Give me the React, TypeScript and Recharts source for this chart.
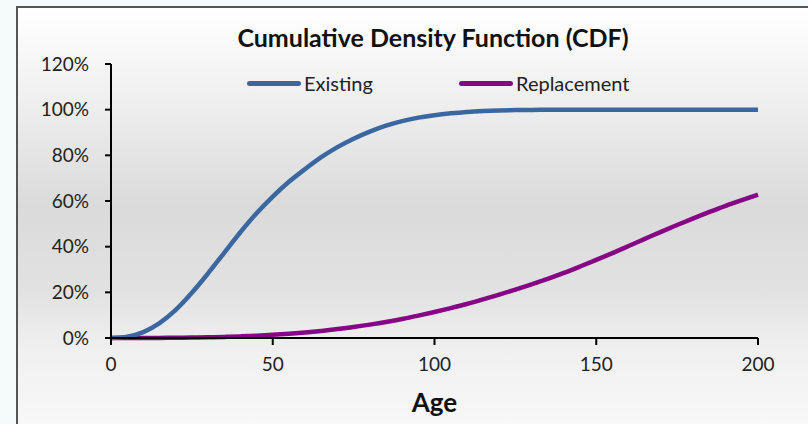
import React from "react";
import {
  LineChart,
  Line,
  XAxis,
  YAxis,
  Legend,
  Label,
} from "recharts";

// Age (years) sampled every 5 units
const ages = [
  0, 5, 10, 15, 20, 25, 30, 35, 40, 45, 50, 55, 60, 65, 70, 75, 80, 85, 90, 95,
  100, 105, 110, 115, 120, 125, 130, 135, 140, 145, 150, 155, 160, 165, 170,
  175, 180, 185, 190, 195, 200,
];

// cumulative share failed, in percent
const existing = [
  0, 0.6, 2.6, 6.5, 12.3, 19.8, 28.3, 37.3, 46.3, 54.6, 61.9, 68.4, 74, 79.2,
  83.6, 87.3, 90.4, 93, 95, 96.5, 97.6, 98.4, 99, 99.4, 99.65, 99.8, 99.9,
  99.95, 100, 100, 100, 100, 100, 100, 100, 100, 100, 100, 100, 100, 100,
];

const replacement = [
  0, 0, 0.02, 0.05, 0.1, 0.18, 0.3, 0.47, 0.7, 1.0, 1.38, 1.85, 2.42, 3.1, 3.9,
  4.8, 5.85, 7.0, 8.3, 9.8, 11.4, 13.1, 14.9, 16.9, 19.0, 21.2, 23.5, 25.9,
  28.5, 31.3, 34.2, 37.2, 40.3, 43.4, 46.5, 49.5, 52.4, 55.2, 57.9, 60.4,
  62.8,
];

const xTicks = [0, 50, 100, 150, 200];
const yTicks = [0, 20, 40, 60, 80, 100, 120];

const seriesNames = { existing: "Existing", replacement: "Replacement" };
const colors = { existing: "#3b67a0", replacement: "#860686" };

const data = ages.map((age, i) => ({
  age,
  existing: existing[i],
  replacement: replacement[i],
}));

const FONT = "Lato, 'Open Sans', sans-serif";

function CdfLegend() {
  const items = [
    { key: "existing", left: 247 },
    { key: "replacement", left: 459 },
  ] as const;
  return (
    <div style={{ position: "relative", height: 24 }}>
      {items.map((it) => (
        <div
          key={it.key}
          style={{
            position: "absolute",
            left: it.left,
            top: 0,
            display: "flex",
            alignItems: "center",
            height: 24,
          }}
        >
          <div
            style={{
              width: 54,
              height: 5,
              borderRadius: 3,
              background: colors[it.key],
            }}
          />
          <span
            style={{
              marginLeft: 3,
              fontSize: 20,
              color: "#222",
              fontFamily: FONT,
            }}
          >
            {seriesNames[it.key]}
          </span>
        </div>
      ))}
    </div>
  );
}

export default function App() {
  const tick = { fill: "#222", fontSize: 19, fontFamily: FONT };
  return (
    <div
      style={{
        position: "fixed",
        left: 0,
        top: 0,
        width: 808,
        height: 424,
        overflow: "hidden",
        background: "#f5fafa",
        fontFamily: FONT,
      }}
    >
      {/* chart frame with the vertical grey fill */}
      <div
        style={{
          position: "absolute",
          left: 16,
          top: 6,
          width: 820,
          height: 440,
          borderLeft: "2px solid #555",
          borderTop: "2px solid #555",
          background:
            "linear-gradient(to bottom, #ffffff 0%, #eeeeee 22%, #dadada 45%, #e2e2e2 65%, #f0f0f0 78%, #fafafa 100%)",
        }}
      />
      <div
        style={{
          position: "absolute",
          left: 33,
          width: 800,
          top: 22,
          textAlign: "center",
          fontSize: 25,
          fontWeight: 700,
          color: "#111",
          lineHeight: "30px",
        }}
      >
        Cumulative Density Function (CDF)
      </div>
      <LineChart
        width={808}
        height={424}
        data={data}
        margin={{ top: 64, right: 50, bottom: 56, left: 51 }}
        style={{ position: "absolute", left: 0, top: 0 }}
      >
        <XAxis
          dataKey="age"
          type="number"
          domain={[0, 200]}
          ticks={xTicks}
          height={30}
          tick={tick}
          tickSize={7}
          tickMargin={13}
          axisLine={{ stroke: "#000", strokeWidth: 2 }}
          tickLine={{ stroke: "#000", strokeWidth: 2 }}
        >
          <Label
            value="Age"
            position="bottom"
            offset={26}
            style={{ fontSize: 26, fontWeight: 700, fill: "#111", fontFamily: FONT }}
          />
        </XAxis>
        <YAxis
          type="number"
          domain={[0, 120]}
          ticks={yTicks}
          width={60}
          tick={tick}
          tickSize={6}
          tickMargin={16}
          tickFormatter={(v: number) => `${v}%`}
          axisLine={{ stroke: "#000", strokeWidth: 2 }}
          tickLine={{ stroke: "#000", strokeWidth: 2 }}
        />
        <Legend
          layout="horizontal"
          verticalAlign="middle"
          align="center"
          wrapperStyle={{ top: 71, left: 0, width: 808 }}
          content={() => <CdfLegend />}
        />
        <Line
          type="monotone"
          dataKey="replacement"
          name={seriesNames.replacement}
          stroke={colors.replacement}
          strokeWidth={4.5}
          dot={false}
          isAnimationActive={false}
        />
        <Line
          type="monotone"
          dataKey="existing"
          name={seriesNames.existing}
          stroke={colors.existing}
          strokeWidth={4.5}
          dot={false}
          isAnimationActive={false}
        />
      </LineChart>
    </div>
  );
}
